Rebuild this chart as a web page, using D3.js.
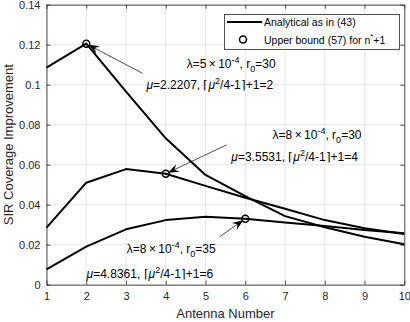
<!DOCTYPE html>
<html><head><meta charset="utf-8">
<script src="https://cdn.jsdelivr.net/npm/d3@7"></script>
<style>body{margin:0;background:#fff}svg{display:block}text{font-family:"Liberation Sans",Arial,sans-serif}</style>
</head><body>
<svg id="c" width="410" height="322"></svg>
<script>
const antennas = [1,2,3,4,5,6,7,8,9,10];
const curveA = [0.1085,0.1205,0.0965,0.0732,0.0549,0.0443,0.0343,0.0287,0.0240,0.0202]; // λ=5e-4, r0=30
const curveB = [0.0285,0.0510,0.0578,0.0555,0.0494,0.0435,0.0380,0.0323,0.0282,0.0253]; // λ=8e-4, r0=30
const curveC = [0.0077,0.0190,0.0277,0.0323,0.0340,0.0330,0.0311,0.0293,0.0273,0.0257]; // λ=8e-4, r0=35
const boundPoints = [[2,0.1205],[4,0.0555],[6,0.0330]];
const xTicks = [1,2,3,4,5,6,7,8,9,10];
const yTicks = [0,0.02,0.04,0.06,0.08,0.1,0.12,0.14];
const yTickLabels = ["0","0.02","0.04","0.06","0.08","0.1","0.12","0.14"];
const legendLabels = ["Analytical as in (43)", "Upper bound (57) for n"];
// annotation arrows: [startX, startY, endX, endY] in data units
const arrows = [[3.415,0.1057,2,0.1205],[5.53,0.0699,4,0.0555],[5.356,0.0240,6,0.0330]];
// annotation text anchors (data units) and parameter strings
const annoPos = [[4.527,0.1083],[3.516,0.0979],[6.687,0.0727],[5.65,0.0617],[3.02,0.0157],[2.009,0.0034]];
const lambdaVals = ["5","8","8"], r0Vals = ["30","30","35"], muVals = ["2.2207","3.5531","4.8361"], nVals = ["2","4","6"];

const svg = d3.select("#c");
const L=46.5,R=404.3,T=4.7,B=284.7;
const x = d3.scaleLinear().domain([1,10]).range([L,R]);
const y = d3.scaleLinear().domain([0,0.14]).range([B,T]);
const axisCol="#262626";

// grid
const g = svg.append("g");
g.selectAll(".gx").data(xTicks).join("line").attr("x1",d=>x(d)).attr("x2",d=>x(d)).attr("y1",T).attr("y2",B).attr("stroke","#e6e6e6").attr("stroke-width",1);
g.selectAll(".gy").data(yTicks).join("line").attr("y1",d=>y(d)).attr("y2",d=>y(d)).attr("x1",L).attr("x2",R).attr("stroke","#e6e6e6").attr("stroke-width",1);

// axes
const ax = svg.append("g").attr("transform",`translate(0,${B})`).call(d3.axisBottom(x).tickValues(xTicks).tickSizeInner(-4).tickSizeOuter(0).tickPadding(8));
const axT = svg.append("g").attr("transform",`translate(0,${T})`).call(d3.axisTop(x).tickValues(xTicks).tickSizeInner(-4).tickSizeOuter(0).tickFormat(""));
const ay = svg.append("g").attr("transform",`translate(${L},0)`).call(d3.axisLeft(y).tickValues(yTicks).tickFormat((d,i)=>yTickLabels[i]).tickSizeInner(-4).tickSizeOuter(0).tickPadding(6));
const ayR = svg.append("g").attr("transform",`translate(${R},0)`).call(d3.axisRight(y).tickValues(yTicks).tickSizeInner(-4).tickSizeOuter(0).tickFormat(""));
[ax,axT,ay,ayR].forEach(a=>{a.selectAll("path").attr("stroke",axisCol).attr("stroke-width",0.8);a.selectAll("line").attr("stroke",axisCol).attr("stroke-width",0.8);a.selectAll("text").attr("fill",axisCol).attr("font-size",11).attr("font-family","Liberation Sans, Arial, sans-serif");});

// axis labels
svg.append("text").attr("x",(L+R)/2).attr("y",318).attr("text-anchor","middle").attr("font-size",13).attr("fill",axisCol).text("Antenna Number");
svg.append("text").attr("transform",`translate(12.5,${(T+B)/2}) rotate(-90)`).attr("text-anchor","middle").attr("font-size",13).attr("fill",axisCol).text("SIR Coverage Improvement");

// curves
const line = d3.line().x((d,i)=>x(antennas[i])).y(d=>y(d));
[curveA,curveB,curveC].forEach(c=>svg.append("path").attr("d",line(c)).attr("fill","none").attr("stroke","#000").attr("stroke-width",2).attr("stroke-linejoin","round"));

// circles
svg.selectAll(".pt").data(boundPoints).join("circle").attr("cx",d=>x(d[0])).attr("cy",d=>y(d[1])).attr("r",3.5).attr("fill","none").attr("stroke","#000").attr("stroke-width",1.5);

// arrows
function arrowHead(x1,y1,x2,y2){
  const a=Math.atan2(y2-y1,x2-x1), len=11, w=4.2, back=7;
  const px=(l,o)=>[x2-l*Math.cos(a)-o*Math.sin(a), y2-l*Math.sin(a)+o*Math.cos(a)];
  const p1=px(len,w),p2=px(back,0),p3=px(len,-w);
  return `M${x2},${y2}L${p1}L${p2}L${p3}Z`;
}
arrows.forEach(a=>{
  const x1=x(a[0]),y1=y(a[1]);
  let x2=x(a[2]),y2=y(a[3]);
  const ang=Math.atan2(y2-y1,x2-x1); x2-=2.5*Math.cos(ang); y2-=2.5*Math.sin(ang);
  svg.append("line").attr("x1",x1).attr("y1",y1).attr("x2",x2-6*Math.cos(ang)).attr("y2",y2-6*Math.sin(ang)).attr("stroke","#000").attr("stroke-width",0.7);
  svg.append("path").attr("d",arrowHead(x1,y1,x2,y2)).attr("fill","#000");
});

// annotation text
const fs=12, ss=9, th="\u2009";
function lambdaText(i,pos){
  const t=svg.append("text").attr("x",x(pos[0])).attr("y",y(pos[1])).attr("font-size",fs).attr("fill","#000");
  t.append("tspan").text(`λ=${lambdaVals[i]}${th}×${th}10`);
  t.append("tspan").attr("dy",-5).attr("font-size",ss).text("-4");
  t.append("tspan").attr("dy",5).text(", r");
  t.append("tspan").attr("dy",3.5).attr("font-size",ss).text("0");
  t.append("tspan").attr("dy",-3.5).text(`=${r0Vals[i]}`);
}
function muText(i,pos){
  const t=svg.append("text").attr("x",x(pos[0])).attr("y",y(pos[1])).attr("font-size",fs).attr("fill","#000");
  t.append("tspan").attr("font-style","italic").text("μ");
  t.append("tspan").text(`=${muVals[i]}, ⌈`);
  t.append("tspan").attr("font-style","italic").text("μ");
  t.append("tspan").attr("dy",-5).attr("font-size",ss).text("2");
  t.append("tspan").attr("dy",5).text("/4-1⌉+1="+nVals[i]);
}
for(let i=0;i<3;i++){lambdaText(i,annoPos[2*i]);muText(i,annoPos[2*i+1]);}

// legend
const lg=svg.append("g");
lg.append("rect").attr("x",224.5).attr("y",14.5).attr("width",175).attr("height",35).attr("fill","#fff").attr("stroke",axisCol).attr("stroke-width",0.8);
lg.append("line").attr("x1",227).attr("x2",262).attr("y1",22).attr("y2",22).attr("stroke","#000").attr("stroke-width",2);
lg.append("circle").attr("cx",243).attr("cy",39.5).attr("r",3.5).attr("fill","none").attr("stroke","#000").attr("stroke-width",1.5);
lg.append("text").attr("x",264).attr("y",26).attr("font-size",10.5).attr("fill","#000").text(legendLabels[0]);
const lt=lg.append("text").attr("x",264).attr("y",44).attr("font-size",10.5).attr("fill","#000");
lt.append("tspan").text(legendLabels[1]);
lt.append("tspan").attr("dy",-5).attr("font-size",8).text("*");
lt.append("tspan").attr("dy",5).text("+1");
</script>
</body></html>
